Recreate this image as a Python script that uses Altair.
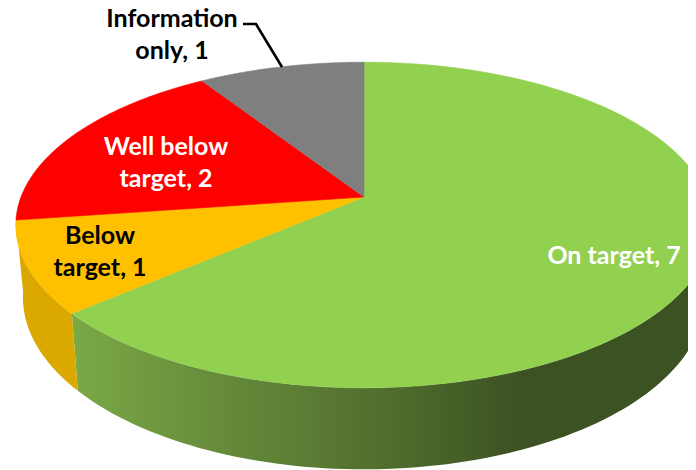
import numpy as np
import altair as alt

categories = ["On target", "Below target", "Well below target", "Information only"]
values = [7, 1, 2, 1]
top_colors = ["#92d050", "#ffc000", "#ff0000", "#7f7f7f"]

label_lines = ["On target, 7", "Below\ntarget, 1", "Well below\ntarget, 2", "Information\nonly, 1"]
label_colors = ["#ffffff", "#000000", "#ffffff", "#000000"]
label_x = [606, 92, 158, 164]
label_y = [248, 228, 139, 11]

leader_x = [235, 248, 274]
leader_y = [16, 16, 59]

wall_stops = [(0.0, "#7aa945"), (0.25, "#64893a"), (0.456, "#54722f"), (0.70, "#3c5222"), (1.0, "#3c5222")]
wall_yellow = "#dba800"

# perspective view of the pie's rim (chart pixels)
CX, CY, K = 356, 189, 0.172
TOP_A, TOP_B, TOP_D = 343, 158, 0
BOT_A, BOT_B, BOT_D = 336, 167, 70.6


def rim(deg, a, b, d):
    t = np.radians(np.asarray(deg, dtype=float))
    u, v = np.sin(t), np.cos(t)
    w = 1 + K * v
    return np.column_stack([CX + a * u / w, CY + d - b * v / w]).tolist()


edges = np.cumsum([0] + values) / sum(values) * 360


def feature(ring, name):
    return {"type": "Feature", "properties": {"category": name},
            "geometry": {"type": "Polygon", "coordinates": [ring + [ring[0]]]}}


top_features = []
for i, name in enumerate(categories):
    arc = rim(np.linspace(edges[i], edges[i + 1], 90), TOP_A, TOP_B, TOP_D)
    top_features.append(feature([[CX, CY]] + arc, name))


def wall(a0, a1, name):
    angles = np.linspace(a0, a1, 90)
    return feature(rim(angles, TOP_A, TOP_B, TOP_D) + rim(angles[::-1], BOT_A, BOT_B, BOT_D), name)


proj = dict(type="identity", scale=1, translate=[0, 0])

wall_green = alt.Chart(alt.Data(values=[wall(100, edges[1], categories[0])])).mark_geoshape(
    clip=True, strokeWidth=0,
    fill=alt.Gradient(gradient="linear", x1=0, x2=1, y1=0, y2=0,
                      stops=[alt.GradientStop(offset=o, color=c) for o, c in wall_stops]),
).project(**proj)

wall_gold = alt.Chart(alt.Data(values=[wall(edges[1], edges[2], categories[1])])).mark_geoshape(
    clip=True, strokeWidth=0, fill=wall_yellow
).project(**proj)

tops = alt.Chart(alt.Data(values=top_features)).mark_geoshape(clip=True, strokeWidth=0.6).encode(
    fill=alt.Fill("properties.category:N", scale=alt.Scale(domain=categories, range=top_colors), legend=None),
    stroke=alt.Stroke("properties.category:N", scale=alt.Scale(domain=categories, range=top_colors), legend=None),
).project(**proj)

label_rows = [{"text": t, "lon": x, "lat": y, "color": c}
              for t, x, y, c in zip(label_lines, label_x, label_y, label_colors)]
labels = alt.Chart(alt.Data(values=label_rows)).mark_text(
    font="Lato", fontWeight="bold", fontSize=25, lineHeight=32, align="center", baseline="middle", lineBreak="\n"
).encode(
    longitude="lon:Q", latitude="lat:Q", text="text:N", color=alt.Color("color:N", scale=None)
).project(**proj)

leader = alt.Chart(alt.Data(values=[{"lon": x, "lat": y, "o": i} for i, (x, y) in enumerate(zip(leader_x, leader_y))])).mark_line(
    color="#000000", strokeWidth=2.6
).encode(longitude="lon:Q", latitude="lat:Q", order="o:Q").project(**proj)

chart = alt.layer(wall_green, wall_gold, tops, leader, labels).properties(
    width=680, height=462, padding=0, autosize=alt.AutoSizeParams(type="none")
).configure_view(stroke=None)

chart.save("out.html", embed_options={"renderer": "svg", "actions": False})
